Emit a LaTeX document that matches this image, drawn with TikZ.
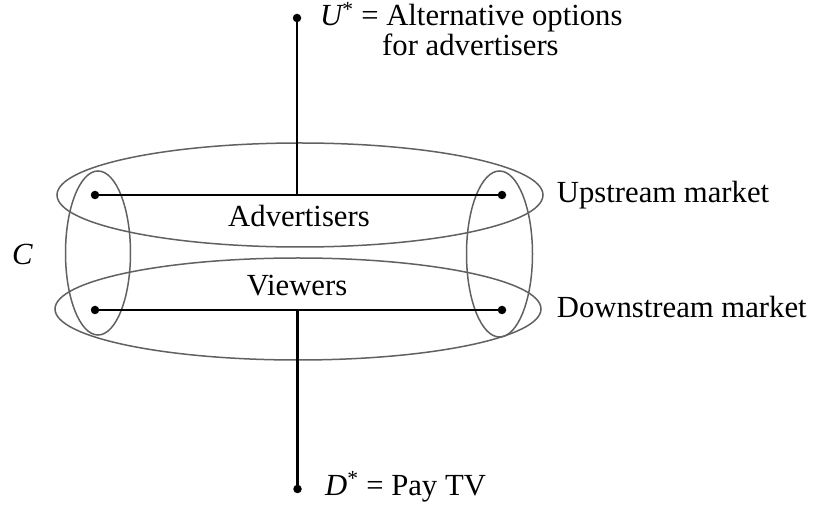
\documentclass[tikz,border=0pt]{standalone}
\usepackage{fontspec}
\setmainfont{Liberation Serif}
\begin{document}
\begin{tikzpicture}[x=1pt,y=-1pt,
  ring/.style={draw=black!62,line width=1.5pt},
  link/.style={draw=black,line width=2.3pt},
  dotnode/.style={circle,fill=black,inner sep=0pt,minimum size=8.5pt},
  lbl/.style={anchor=base west,inner sep=0pt,font=\fontsize{30.7}{36}\selectfont},
  clbl/.style={anchor=base,inner sep=0pt,font=\fontsize{30.7}{36}\selectfont}]
\useasboundingbox (0,0) rectangle (814,510);
% ellipses
\draw[ring] (300,195) ellipse [x radius=243, y radius=52];
\draw[ring] (298,309) ellipse [x radius=243, y radius=51];
\draw[ring] (98,253) ellipse [x radius=32.5, y radius=82];
\draw[ring] (499.5,254) ellipse [x radius=33, y radius=83];
% dots
\node[dotnode] (ut) at (297,18) {};
\node[dotnode] (dt) at (297.5,489) {};
\node[dotnode] (al) at (95,195) {};
\node[dotnode] (ar) at (502,195) {};
\node[dotnode] (vl) at (95,310) {};
\node[dotnode] (vr) at (502,310) {};
\coordinate (uj) at (297,195);
\coordinate (vj) at (297.5,310);
% connectors
\draw[link] (al) -- (ar);
\draw[link] (vl) -- (vr);
\draw[link] (ut.center) -- (uj);
\draw[link] (vj) -- (dt.center);
% labels
\node[clbl] (adv) at (299,226.7) {Advertisers};
\node[clbl] (vw) at (297,295.7) {Viewers};
\node[lbl] (c) at (12,265) {\itshape C};
\node[lbl] (up) at (556.7,203) {Upstream market};
\node[lbl] (down) at (556.7,318) {Downstream market};
\node[lbl] (u1) at (320,26) {{\itshape U}\textsuperscript{*} = Alternative options};
\node[lbl] (u2) at (382,56) {for advertisers};
\node[lbl] (d1) at (325,495) {{\itshape D}\textsuperscript{*} = Pay TV};
\end{tikzpicture}
\end{document}
